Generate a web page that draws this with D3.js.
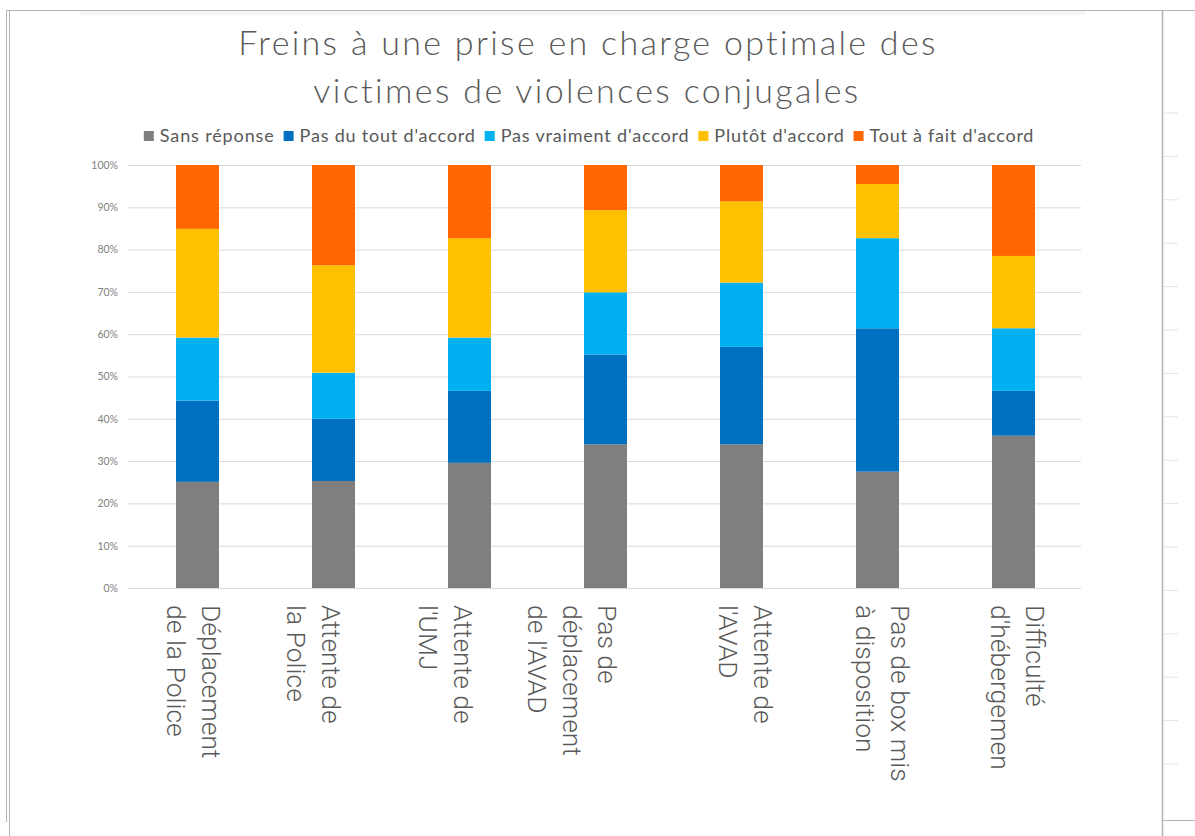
<!DOCTYPE html>
<html>
<head>
<meta charset="utf-8">
<script src="https://cdn.jsdelivr.net/npm/d3@7"></script>
<style>
  body { margin: 0; background: #fff; }
  svg { display: block; }
</style>
</head>
<body>
<svg id="chart" width="1195" height="836"></svg>
<script>
// data (percent of answers)
const categories = [
  "Déplacement de la Police",
  "Attente de la Police",
  "Attente de l'UMJ",
  "Pas de déplacement de l'AVAD",
  "Attente de l'AVAD",
  "Pas de box mis à disposition",
  "Difficulté d'hébergement"
];
// the label text as it is wrapped (and clipped) under each bar
const labelLines = [
  ["Déplacement", "de la Police"],
  ["Attente de", "la Police"],
  ["Attente de", "l'UMJ"],
  ["Pas de", "déplacement", "de l'AVAD"],
  ["Attente de", "l'AVAD"],
  ["Pas de box mis", "à disposition"],
  ["Difficulté", "d'hébergemen"]
];
const seriesNames = ["Sans réponse", "Pas du tout d'accord", "Pas vraiment d'accord", "Plutôt d'accord", "Tout à fait d'accord"];
const sansReponse = [25.1, 25.3, 29.6, 34.0, 34.0, 27.5, 36.0];
const pasDuTout   = [19.2, 14.7, 17.0, 21.2, 23.0, 33.9, 10.6];
const pasVraiment = [14.9, 10.9, 12.6, 14.7, 15.2, 21.3, 14.8];
const plutot      = [25.7, 25.4, 23.5, 19.4, 19.2, 12.8, 17.1];
const toutAFait   = [15.1, 23.7, 17.3, 10.7, 8.6, 4.5, 21.5];
const yTicks = [0, 10, 20, 30, 40, 50, 60, 70, 80, 90, 100];

const colors = ["#7f7f7f", "#0070c0", "#00b0f0", "#ffc000", "#ff6600"];
// horizontal nudge of each rotated label, the original is not centred evenly
const labelShift = [13, -3, -7, 1, 21, 22, 21];

const seriesValues = [sansReponse, pasDuTout, pasVraiment, plutot, toutAFait];
const rows = categories.map((c, i) => {
  const r = { cat: c };
  seriesNames.forEach((s, j) => { r[s] = seriesValues[j][i]; });
  return r;
});

const svg = d3.select("#chart");
const plot = { left: 129.5, right: 1081.5, top: 165, bottom: 588 };
const uiFont = "Lato, 'Open Sans', sans-serif";

// stretch a text run to a given width with letter spacing (the original font is wider)
function fitWidth(sel, width) {
  const n = sel.text().length;
  const w = sel.node().getComputedTextLength();
  sel.attr("letter-spacing", (width - w) / n);
}

// frame of the sheet the chart sits on
const frame = svg.append("g").attr("stroke", "#b4b4b4").attr("fill", "none");
frame.append("line").attr("x1", 6).attr("x2", 1195).attr("y1", 10.5).attr("y2", 10.5);
frame.append("line").attr("x1", 6.5).attr("x2", 6.5).attr("y1", 11).attr("y2", 822);
frame.append("line").attr("x1", 9.5).attr("x2", 9.5).attr("y1", 11).attr("y2", 836);
frame.append("line").attr("x1", 1162.5).attr("x2", 1162.5).attr("y1", 11).attr("y2", 836).attr("stroke-width", 1.5);
frame.append("line").attr("x1", 1163).attr("x2", 1195).attr("y1", 820.5).attr("y2", 820.5);
svg.append("rect").attr("x", 80).attr("y", 11).attr("width", 1005).attr("height", 4).attr("fill", "#f6f6f6");
svg.append("g").selectAll("line")
  .data(d3.range(113, 800, 43.4))
  .join("line")
  .attr("x1", 1164).attr("x2", 1178)
  .attr("y1", d => d).attr("y2", d => d)
  .attr("stroke", "#e4e4e4");

// title
const title = svg.append("g")
  .attr("text-anchor", "middle")
  .attr("font-family", uiFont)
  .attr("font-weight", 300)
  .attr("font-size", 34)
  .attr("fill", "#595959");
const t1 = title.append("text").attr("x", 588).attr("y", 55).text("Freins à une prise en charge optimale des");
const t2 = title.append("text").attr("x", 587).attr("y", 103).text("victimes de violences conjugales");
fitWidth(t1, 700);
fitWidth(t2, 548);

// scales
const x = d3.scaleBand()
  .domain(categories)
  .range([plot.left, plot.right])
  .paddingInner(0.684)
  .paddingOuter(0.342);

const y = d3.scaleLinear().domain([0, 100]).range([plot.bottom, plot.top]);

// gridlines and y labels
const yAxis = svg.append("g")
  .attr("transform", `translate(${plot.left - 1.5},0)`)
  .call(d3.axisLeft(y)
    .tickValues(yTicks)
    .tickSize(-(plot.right - plot.left + 1))
    .tickPadding(10)
    .tickFormat(d => d + "%"));
yAxis.select(".domain").remove();
yAxis.selectAll(".tick line").attr("stroke", "#d9d9d9");
yAxis.selectAll(".tick text")
  .attr("font-family", uiFont)
  .attr("font-size", 10.5)
  .attr("fill", "#7f7f7f");

// stacked bars
const stacked = d3.stack().keys(seriesNames)(rows);
svg.append("g")
  .selectAll("g")
  .data(stacked)
  .join("g")
  .attr("fill", (d, i) => colors[i])
  .selectAll("rect")
  .data(d => d)
  .join("rect")
  .attr("x", d => x(d.data.cat))
  .attr("width", x.bandwidth())
  .attr("y", d => y(d[1]))
  .attr("height", d => y(d[0]) - y(d[1]));

// rotated category labels
const labels = svg.append("g")
  .attr("font-family", "Roboto, 'Liberation Sans', sans-serif")
  .attr("font-weight", 300)
  .attr("font-size", 26.5)
  .attr("fill", "#595959");
categories.forEach((c, i) => {
  const cx = x(c) + x.bandwidth() / 2 + labelShift[i] - 9;
  const t = labels.append("text")
    .attr("transform", `translate(${cx},605) rotate(90)`);
  labelLines[i].forEach((line, k) => {
    t.append("tspan").attr("x", 0).attr("y", k * 35).text(line);
  });
});

// legend
const legend = svg.append("g")
  .attr("font-family", uiFont)
  .attr("font-size", 18)
  .attr("fill", "#595959");
let lx = 0;
seriesNames.forEach((s, i) => {
  const g = legend.append("g").attr("transform", `translate(${lx},0)`);
  g.append("rect").attr("x", 0).attr("y", -5).attr("width", 10).attr("height", 10).attr("fill", colors[i]);
  const t = g.append("text").attr("x", 16).attr("y", 6).text(s);
  fitWidth(t, t.node().getComputedTextLength() * 1.1);
  lx += 16 + t.node().getComputedTextLength() + 9;
});
lx -= 9;
legend.attr("transform", `translate(${589 - lx / 2},136)`);
</script>
</body>
</html>
